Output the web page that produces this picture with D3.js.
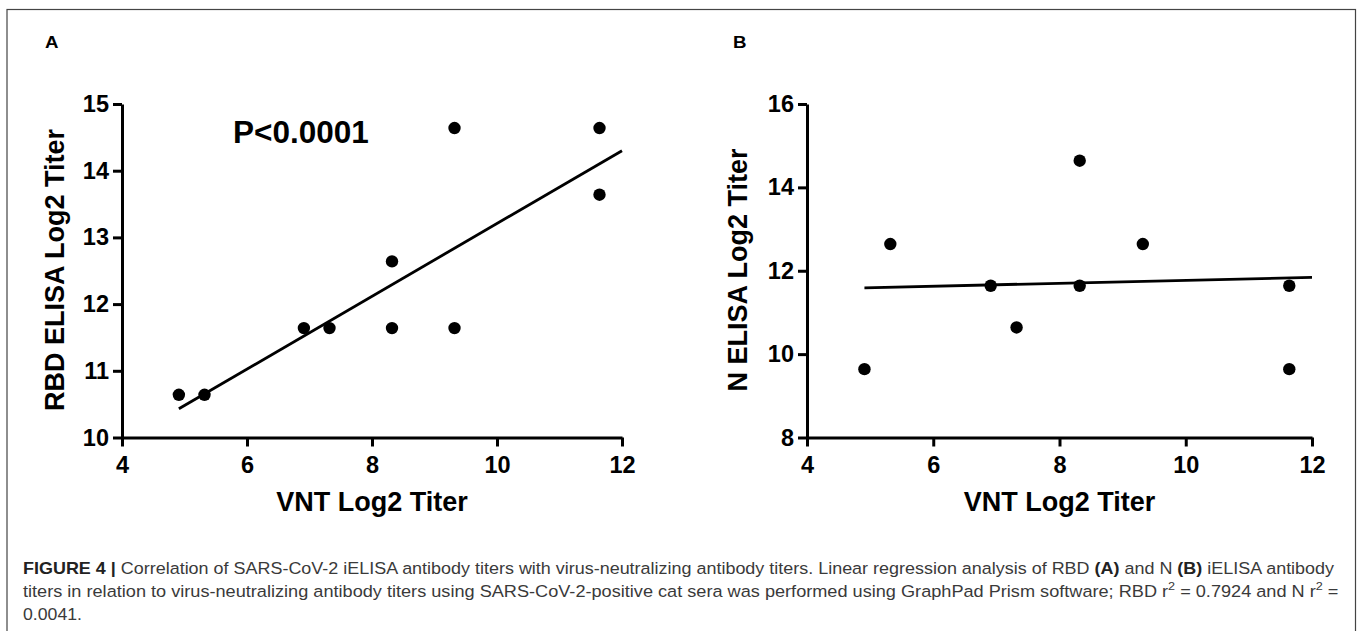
<!DOCTYPE html>
<html>
<head>
<meta charset="utf-8">
<script src="https://cdn.jsdelivr.net/npm/d3@7"></script>
<style>
  body { margin: 0; background: #fff; }
  svg { display: block; }
  .tick text { font-family: "Liberation Sans", Arial, sans-serif; font-weight: bold; }
</style>
</head>
<body>
<svg id="fig" width="1363" height="631"></svg>
<script>
// panel A: RBD ELISA vs VNT (log2 titers)
var rbdVnt   = [4.91, 5.32, 6.91, 7.32, 8.32, 8.32, 9.32, 9.32, 11.64, 11.64];
var rbdElisa = [10.64, 10.64, 11.64, 11.64, 11.64, 12.64, 11.64, 14.64, 14.64, 13.64];
var rbdFitX  = [4.91, 12];
var rbdFitY  = [10.43, 14.30];

// panel B: N ELISA vs VNT
var nVnt   = [5.32, 8.32, 9.32, 4.91, 6.91, 7.32, 8.32, 11.64, 11.64];
var nElisa = [12.64, 14.64, 12.64, 9.64, 11.64, 10.64, 11.64, 11.64, 9.64];
var nFitX  = [4.91, 12];
var nFitY  = [11.59, 11.84];

var xTicks    = [4, 6, 8, 10, 12];
var rbdYTicks = [10, 11, 12, 13, 14, 15];
var nYTicks   = [8, 10, 12, 14, 16];

var svg = d3.select('#fig');

// outer frame
svg.append('rect')
  .attr('x', 7).attr('y', 9.5)
  .attr('width', 1348.5).attr('height', 640)
  .attr('fill', 'none')
  .attr('stroke', '#444')
  .attr('stroke-width', 1.2);

function panel(opt) {
  var x = d3.scaleLinear().domain([4, 12]).range([opt.left, opt.right]);
  var y = d3.scaleLinear().domain(opt.yDomain).range([437.5, 104]);
  var g = svg.append('g');

  var xAxis = g.append('g')
    .attr('transform', 'translate(0,437.5)')
    .call(d3.axisBottom(x).tickValues(xTicks).tickFormat(d3.format('d'))
      .tickSize(9).tickPadding(10).tickSizeOuter(0));
  var yAxis = g.append('g')
    .attr('transform', 'translate(' + opt.left + ',0)')
    .call(d3.axisLeft(y).tickValues(opt.yTicks).tickFormat(d3.format('d'))
      .tickSize(9).tickPadding(4).tickSizeOuter(0));

  [xAxis, yAxis].forEach(function(a) {
    a.select('.domain').attr('stroke', '#000').attr('stroke-width', 3);
    a.selectAll('.tick line').attr('stroke', '#000').attr('stroke-width', 3);
    a.selectAll('.tick text').attr('fill', '#000').style('font-size', '23.5px');
  });

  // regression line
  g.append('line')
    .attr('x1', x(opt.fitX[0])).attr('y1', y(opt.fitY[0]))
    .attr('x2', x(opt.fitX[1])).attr('y2', y(opt.fitY[1]))
    .attr('stroke', '#000')
    .attr('stroke-width', 2.8);

  g.selectAll('circle')
    .data(opt.xs)
    .enter().append('circle')
    .attr('cx', function(d) { return x(d); })
    .attr('cy', function(d, i) { return y(opt.ys[i]); })
    .attr('r', 6.2)
    .attr('fill', '#000');

  g.append('text')
    .attr('x', (opt.left + opt.right) / 2)
    .attr('y', 511)
    .attr('text-anchor', 'middle')
    .style('font', 'bold 27px "Liberation Sans", Arial, sans-serif')
    .text('VNT Log2 Titer');

  g.append('text')
    .attr('transform', 'translate(' + opt.yTitleX + ',270) rotate(-90)')
    .attr('text-anchor', 'middle')
    .style('font', 'bold 27px "Liberation Sans", Arial, sans-serif')
    .text(opt.yTitle);

  g.append('text')
    .attr('transform', 'translate(' + opt.letterX + ',47.5) scale(1.1,1)')
    .style('font', 'bold 17px "Liberation Sans", Arial, sans-serif')
    .text(opt.letter);

  return g;
}

var gA = panel({
  left: 122, right: 622, yDomain: [10, 15], yTicks: rbdYTicks,
  xs: rbdVnt, ys: rbdElisa, fitX: rbdFitX, fitY: rbdFitY,
  yTitle: 'RBD ELISA Log2 Titer', yTitleX: 64, letter: 'A', letterX: 45
});
gA.append('text')
  .attr('x', 233).attr('y', 143)
  .style('font', 'bold 31.5px "Liberation Sans", Arial, sans-serif')
  .text('P<0.0001');

panel({
  left: 807, right: 1312, yDomain: [8, 16], yTicks: nYTicks,
  xs: nVnt, ys: nElisa, fitX: nFitX, fitY: nFitY,
  yTitle: 'N ELISA Log2 Titer', yTitleX: 747, letter: 'B', letterX: 733
});

// caption, stretched to the reference line widths
var cap = svg.append('g')
  .style('font', '16.5px "Liberation Sans", Arial, sans-serif')
  .attr('fill', '#3a3a3a');

function capLine(y, width) {
  return cap.append('text').attr('data-y', y).attr('data-w', width);
}

var l1 = capLine(574, 1312);
l1.append('tspan').attr('font-weight', 'bold').attr('fill', '#222').text('FIGURE 4 | ');
l1.append('tspan').text('Correlation of SARS-CoV-2 iELISA antibody titers with virus-neutralizing antibody titers. Linear regression analysis of RBD ');
l1.append('tspan').attr('font-weight', 'bold').attr('fill', '#222').text('(A)');
l1.append('tspan').text(' and N ');
l1.append('tspan').attr('font-weight', 'bold').attr('fill', '#222').text('(B)');
l1.append('tspan').text(' iELISA antibody');

var l2 = capLine(597, 1317);
l2.append('tspan').text('titers in relation to virus-neutralizing antibody titers using SARS-CoV-2-positive cat sera was performed using GraphPad Prism software; RBD r');
l2.append('tspan').attr('baseline-shift', 'super').style('font-size', '11.5px').text('2');
l2.append('tspan').text(' = 0.7924 and N r');
l2.append('tspan').attr('baseline-shift', 'super').style('font-size', '11.5px').text('2');
l2.append('tspan').text(' =');

var l3 = capLine(620, 59);
l3.text('0.0041.');

cap.selectAll('text').each(function() {
  var t = d3.select(this);
  var w = this.getComputedTextLength();
  var sx = +t.attr('data-w') / w;
  t.attr('transform', 'translate(23,' + t.attr('data-y') + ') scale(' + sx + ',1)');
});
</script>
</body>
</html>
